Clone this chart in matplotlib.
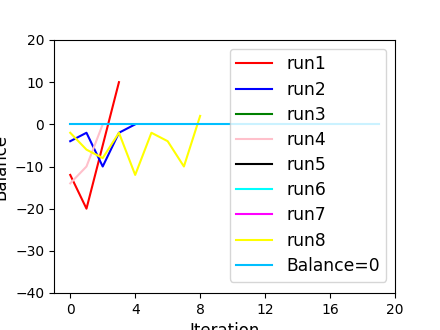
import numpy as np
import matplotlib
matplotlib.use("Agg")
import matplotlib.pyplot as plt

# balance per iteration for each run
run1 = [-12, -20, -5, 10]
run2 = [-4, -2, -10, -2, 0]
run3 = []
run4 = [-14, -10, 0]
run5 = []
run6 = []
run7 = []
run8 = [-2, -6, -8, -2, -12, -2, -4, -10, 2]
runs = [run1, run2, run3, run4, run5, run6, run7, run8]
names = ["run1", "run2", "run3", "run4", "run5", "run6", "run7", "run8"]
colors = ["red", "blue", "green", "pink", "black", "cyan", "magenta", "yellow"]
n_iter = 20

fig = plt.figure(figsize=(4.4, 3.3), dpi=100)
ax = fig.add_axes([54/440, 37/330, 341/440, 253/330])

for r, name, c in zip(runs, names, colors):
    ax.plot(np.arange(len(r)), r, color=c, label=name)
ax.plot(np.arange(n_iter), np.zeros(n_iter), color="deepskyblue", label="Balance=0")

ax.set_xlim(-1, 20)
ax.set_ylim(-40, 20)
ax.set_xticks([0, 4, 8, 12, 16, 20])
ax.set_yticks([-40, -30, -20, -10, 0, 10, 20])
ax.tick_params(labelsize=10)
ax.set_xlabel("Iteration", fontsize=12)
ax.set_ylabel("Balance", fontsize=12)
ax.legend(loc="upper right", fontsize=12.3, handlelength=2.1, labelspacing=0.42)

fig.savefig("out.png", dpi=100)
